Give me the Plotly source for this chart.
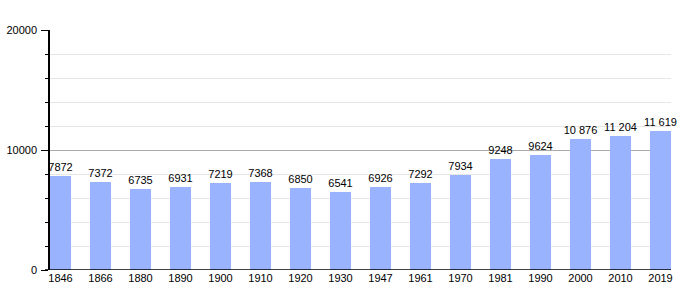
import plotly.graph_objects as go

years = ["1846", "1866", "1880", "1890", "1900", "1910", "1920", "1930",
         "1947", "1961", "1970", "1981", "1990", "2000", "2010", "2019"]
population = [7872, 7372, 6735, 6931, 7219, 7368, 6850, 6541,
              6926, 7292, 7934, 9248, 9624, 10876, 11204, 11619]
labels = ["7872", "7372", "6735", "6931", "7219", "7368", "6850", "6541",
          "6926", "7292", "7934", "9248", "9624", "10 876", "11 204", "11 619"]

xs = list(range(len(years)))
bw = 0.525

fig = go.Figure(go.Bar(
    x=xs, y=population, width=bw,
    marker=dict(color="#99b3ff", line=dict(width=0)),
    text=labels, textposition="outside", constraintext="none",
    textfont=dict(family="Liberation Sans, Arial", size=11, color="#000"),
    cliponaxis=False, hoverinfo="skip",
))

fig.update_layout(
    width=700, height=300,
    margin=dict(l=50, r=29, t=30, b=30),
    paper_bgcolor="white", plot_bgcolor="white",
    showlegend=False, bargap=0,
    font=dict(family="Liberation Sans, Arial", size=11, color="#000"),
)
fig.update_xaxes(
    range=[-bw / 2, len(years) - 1 + bw / 2],
    tickmode="array", tickvals=xs, ticktext=years,
    showgrid=False, zeroline=False, showline=False, ticks="",
    tickfont=dict(size=11), fixedrange=True, automargin=False,
)
fig.update_yaxes(
    range=[0, 20000], tickmode="array", tickvals=[0, 10000, 20000],
    ticktext=["0", "10000", "20000"],
    showgrid=True, gridcolor="#aaaaaa", gridwidth=1,
    showline=True, linecolor="#000", linewidth=1.5,
    ticks="outside", ticklen=7, tickcolor="#000", tickwidth=1,
    ticklabelstandoff=2, automargin=False,
    zeroline=False,
    minor=dict(tickmode="array", tickvals=[2000, 4000, 6000, 8000, 12000, 14000, 16000, 18000],
               ticks="outside", ticklen=3, tickcolor="#000",
               showgrid=True, gridcolor="#e6e6e6", gridwidth=1),
    tickfont=dict(size=11), fixedrange=True,
)

# zero baseline (black) extending slightly left of axis
fig.add_shape(type="line", xref="paper", yref="y", x0=-0.008, x1=1, y0=0, y1=0,
              line=dict(color="#000", width=1.5), layer="above")

fig.write_html("out.html")
